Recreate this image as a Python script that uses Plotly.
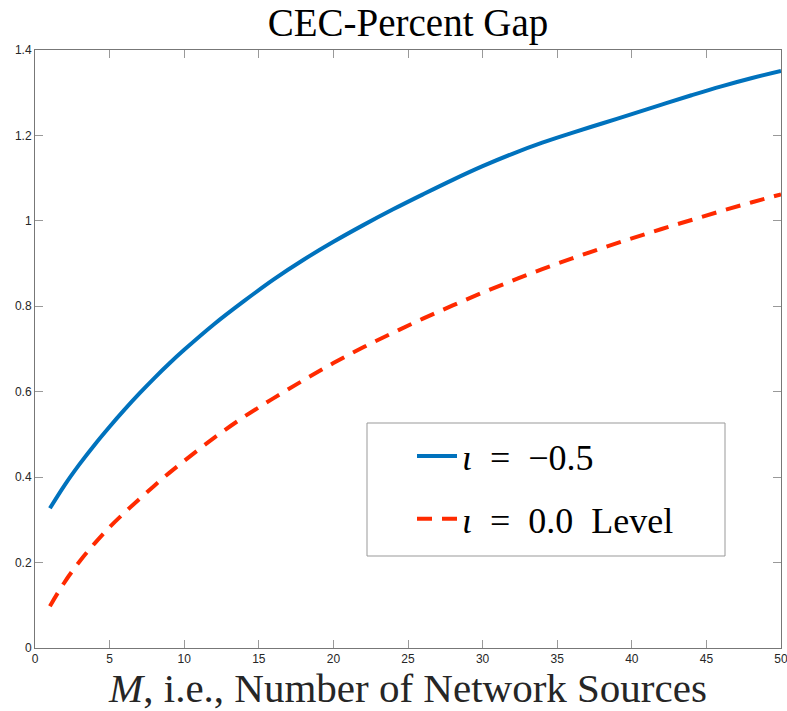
import plotly.graph_objects as go

# Values
M = [1, 2, 3, 4, 5, 6, 7, 8, 9, 10, 12, 14, 16, 18, 20, 22, 24, 26, 28, 30,
     32, 34, 36, 38, 40, 42, 44, 46, 48, 50]
gap_iota_m05 = [0.327, 0.382, 0.431, 0.476, 0.518, 0.558, 0.596, 0.632, 0.666, 0.698,
                0.758, 0.812, 0.863, 0.909, 0.951, 0.990, 1.027, 1.062, 1.096, 1.128,
                1.157, 1.183, 1.206, 1.228, 1.250, 1.272, 1.294, 1.315, 1.334, 1.351]
gap_iota_00 = [0.098, 0.155, 0.203, 0.245, 0.283, 0.317, 0.349, 0.380, 0.410, 0.438,
               0.492, 0.541, 0.585, 0.627, 0.667, 0.704, 0.738, 0.771, 0.802, 0.832,
               0.860, 0.887, 0.912, 0.936, 0.959, 0.981, 1.002, 1.023, 1.043, 1.062]

x_ticks = [0, 5, 10, 15, 20, 25, 30, 35, 40, 45, 50]
y_ticks = [0, 0.2, 0.4, 0.6, 0.8, 1.0, 1.2, 1.4]
y_tick_text = ["0", "0.2", "0.4", "0.6", "0.8", "1", "1.2", "1.4"]

SERIF = "Liberation Serif, DejaVu Serif, serif"
SANS = "Liberation Sans, Arial, sans-serif"
EN = "\u2002"

fig = go.Figure()
fig.add_trace(go.Scatter(
    x=M, y=gap_iota_m05, mode="lines", name=f"<i>ι</i>{EN}={EN}−0.5",
    legendgroup="a",
    line=dict(color="#0072BD", width=4, shape="spline", smoothing=1.0),
))
fig.add_trace(go.Scatter(
    x=M, y=gap_iota_00, mode="lines", name=f"<i>ι</i>{EN}={EN}0.0{EN}Level",
    legendgroup="b",
    line=dict(color="#FF2A00", width=4, dash="15px,10px", shape="spline", smoothing=1.0),
))

W, H = 787, 711
L, R, T, B = 35, 6, 50, 63

axis_common = dict(
    showline=True, linecolor="#777777", linewidth=1, mirror="ticks",
    ticks="inside", ticklen=8, tickcolor="#999999", tickwidth=1,
    showgrid=False, zeroline=False, ticklabeloverflow="allow", automargin=False,
    tickfont=dict(family=SANS, size=12, color="#262626"),
)

fig.update_layout(
    width=W, height=H,
    margin=dict(l=L, r=R, t=T, b=B, autoexpand=False),
    paper_bgcolor="white", plot_bgcolor="white",
    title=dict(text="CEC-Percent Gap", x=(L + (W - R)) / 2 / W, xanchor="center",
               y=1 - 22 / H, yanchor="middle", yref="container",
               font=dict(family=SERIF, size=39, color="#000000")),
    xaxis=dict(range=[0, 50], tickvals=x_ticks, **axis_common,
               title=dict(text="<i>M</i>, i.e., Number of Network Sources",
                          font=dict(family=SERIF, size=41, color="#262626"),
                          standoff=0)),
    yaxis=dict(range=[0, 1.4], tickvals=y_ticks, ticktext=y_tick_text, **axis_common),
    showlegend=True,
    legend=dict(
        x=(417 - L - 5) / (W - L - R), xanchor="left",
        y=(H - B - 426) / (H - T - B), yanchor="top",
        bgcolor="rgba(0,0,0,0)", borderwidth=0,
        font=dict(family=SERIF, size=36, color="#000000"),
        tracegroupgap=13, itemwidth=40,
    ),
    shapes=[dict(type="rect", xref="paper", yref="paper",
                 x0=(367 - L) / (W - L - R), x1=(725 - L) / (W - L - R),
                 y0=(H - B - 556) / (H - T - B), y1=(H - B - 423) / (H - T - B),
                 line=dict(color="#999999", width=1), fillcolor="white", layer="below")],
)

fig.write_html("out.html")
